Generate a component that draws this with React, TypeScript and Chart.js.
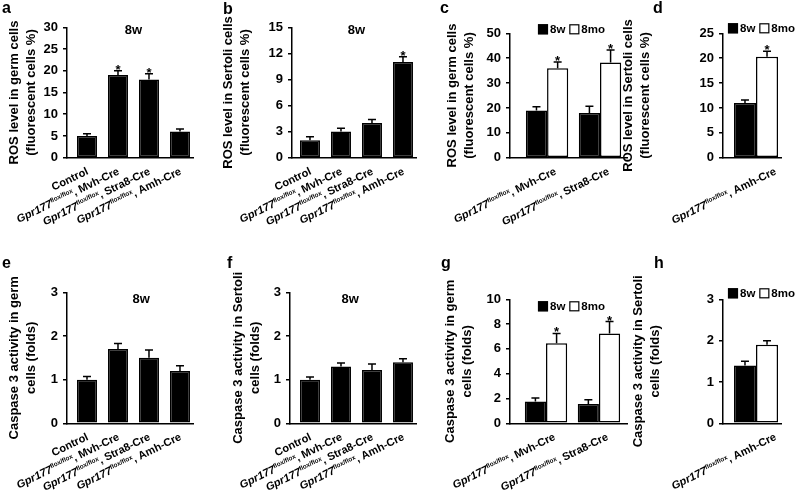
import React, { useEffect, useRef } from "react";
import { Chart, registerables } from "chart.js";

Chart.register(...registerables);

const FAMILY = '"Liberation Sans", Arial, Helvetica, sans-serif';

// ---------------- data ----------------
const genotypeGroups = ["Control", "Mvh-Cre", "Stra8-Cre", "Amh-Cre"];
const germAgeGroups = ["Mvh-Cre", "Stra8-Cre"];
const sertoliAgeGroups = ["Amh-Cre"];
const ageSeries = ["8w", "8mo"];

const rosGermTitle = ["ROS level in germ cells", "(fluorescent cells %)"];
const rosSertoliTitle = ["ROS level in Sertoli cells", "(fluorescent cells %)"];
const casGermTitle = ["Caspase 3 activity in germ", "cells (folds)"];
const casSertoliTitle = ["Caspase 3 activity in Sertoli", "cells (folds)"];

const rosGermTicks = [0, 5, 10, 15, 20, 25, 30];
const rosSertoliTicks = [0, 3, 6, 9, 12, 15];
const rosGermAgeTicks = [0, 10, 20, 30, 40, 50];
const rosSertoliAgeTicks = [0, 5, 10, 15, 20, 25];
const casTicks = [0, 1, 2, 3];
const casGermAgeTicks = [0, 2, 4, 6, 8, 10];

const rosGerm8w = [5, 19, 18, 6];
const rosGerm8wErr = [0.5, 1.0, 1.3, 0.6];
const rosGerm8wSig = [false, true, true, false];

const rosSertoli8w = [2, 3, 4, 11];
const rosSertoli8wErr = [0.4, 0.4, 0.4, 0.6];
const rosSertoli8wSig = [false, false, false, true];

const rosGermAge8w = [19, 18];
const rosGermAge8wErr = [1.5, 2.7];
const rosGermAge8mo = [36, 38.3];
const rosGermAge8moErr = [2.5, 5];
const rosGermAge8moSig = [true, true];

const rosSertoliAge8w = [11];
const rosSertoliAge8wErr = [0.6];
const rosSertoliAge8mo = [20.3];
const rosSertoliAge8moErr = [1.1];
const rosSertoliAge8moSig = [true];

const casGerm8w = [1.0, 1.7, 1.5, 1.2];
const casGerm8wErr = [0.07, 0.13, 0.18, 0.12];

const casSertoli8w = [1.0, 1.3, 1.22, 1.4];
const casSertoli8wErr = [0.06, 0.08, 0.14, 0.08];

const casGermAge8w = [1.75, 1.55];
const casGermAge8wErr = [0.3, 0.35];
const casGermAge8mo = [6.45, 7.25];
const casGermAge8moErr = [0.8, 0.95];
const casGermAge8moSig = [true, true];

const casSertoliAge8w = [1.4];
const casSertoliAge8wErr = [0.1];
const casSertoliAge8mo = [1.9];
const casSertoliAge8moErr = [0.1];

// ---------------- panel layout ----------------
const BLACK = "#000000";
const WHITE = "#ffffff";
const LINE_H = 17;

const panels: any[] = [
  {
    letter: "a", letterX: 2, letterY: 13, yTitle: rosGermTitle, titleX: 14,
    axisX: 67, top: 27.3, bottom: 157.7, right: 193, xMin: -0.645, xMax: 3.42,
    ticks: rosGermTicks, groups: genotypeGroups, catPct: 0.645,
    series: [{ name: ageSeries[0], values: rosGerm8w, errors: rosGerm8wErr, sig: rosGerm8wSig, fill: BLACK }],
    header: ageSeries[0], headerX: 1.5, headerDy: 3, labelDx: 2, labelDy: 16,
  },
  {
    letter: "b", letterX: 223, letterY: 14, yTitle: rosSertoliTitle, titleX: 228,
    axisX: 292, top: 27.3, bottom: 157.7, right: 416, xMin: -0.58, xMax: 3.42,
    ticks: rosSertoliTicks, groups: genotypeGroups, catPct: 0.645,
    series: [{ name: ageSeries[0], values: rosSertoli8w, errors: rosSertoli8wErr, sig: rosSertoli8wSig, fill: BLACK }],
    header: ageSeries[0], headerX: 1.5, headerDy: 3, labelDx: 2, labelDy: 16,
  },
  {
    letter: "c", letterX: 440, letterY: 13, yTitle: rosGermTitle, titleX: 452,
    axisX: 510, top: 33.3, bottom: 157.7, right: 627, xMin: -0.7, xMax: 1.51,
    ticks: rosGermAgeTicks, groups: germAgeGroups, catPct: 0.8,
    series: [
      { name: ageSeries[0], values: rosGermAge8w, errors: rosGermAge8wErr, fill: BLACK },
      { name: ageSeries[1], values: rosGermAge8mo, errors: rosGermAge8moErr, sig: rosGermAge8moSig, fill: WHITE },
    ],
    legendDx: 28, legendDy: -4, labelDx: 10, labelDy: 16,
  },
  {
    letter: "d", letterX: 653, letterY: 13, yTitle: rosSertoliTitle, titleX: 628,
    axisX: 723, top: 33.3, bottom: 157.7, right: 781, xMin: -0.569, xMax: 0.431,
    ticks: rosSertoliAgeTicks, groups: sertoliAgeGroups, catPct: 0.76,
    series: [
      { name: ageSeries[0], values: rosSertoliAge8w, errors: rosSertoliAge8wErr, fill: BLACK },
      { name: ageSeries[1], values: rosSertoliAge8mo, errors: rosSertoliAge8moErr, sig: rosSertoliAge8moSig, fill: WHITE },
    ],
    legendDx: 5, legendDy: -5, labelDx: 21, labelDy: 16,
  },
  {
    letter: "e", letterX: 2, letterY: 268, yTitle: casGermTitle, titleX: 14,
    axisX: 67, top: 292.3, bottom: 423.3, right: 193, xMin: -0.645, xMax: 3.42,
    ticks: casTicks, groups: genotypeGroups, catPct: 0.645,
    series: [{ name: ageSeries[0], values: casGerm8w, errors: casGerm8wErr, fill: BLACK }],
    header: ageSeries[0], headerX: 1.75, headerDy: 7, labelDx: 2, labelDy: 16,
  },
  {
    letter: "f", letterX: 227, letterY: 268, yTitle: casSertoliTitle, titleX: 238,
    axisX: 290, top: 292.3, bottom: 423.3, right: 416, xMin: -0.645, xMax: 3.42,
    ticks: casTicks, groups: genotypeGroups, catPct: 0.645,
    series: [{ name: ageSeries[0], values: casSertoli8w, errors: casSertoli8wErr, fill: BLACK }],
    header: ageSeries[0], headerX: 1.3, headerDy: 7, labelDx: 2, labelDy: 16,
  },
  {
    letter: "g", letterX: 441, letterY: 268, yTitle: casGermTitle, titleX: 450,
    axisX: 510, top: 299.3, bottom: 423.3, right: 627, xMin: -0.68, xMax: 1.53,
    ticks: casGermAgeTicks, groups: germAgeGroups, catPct: 0.8,
    series: [
      { name: ageSeries[0], values: casGermAge8w, errors: casGermAge8wErr, fill: BLACK },
      { name: ageSeries[1], values: casGermAge8mo, errors: casGermAge8moErr, sig: casGermAge8moSig, fill: WHITE },
    ],
    legendDx: 28, legendDy: 7, labelDx: 10, labelDy: 16,
  },
  {
    letter: "h", letterX: 654, letterY: 268, yTitle: casSertoliTitle, titleX: 638,
    axisX: 723, top: 299.3, bottom: 423.3, right: 781, xMin: -0.569, xMax: 0.431,
    ticks: casTicks, groups: sertoliAgeGroups, catPct: 0.76,
    series: [
      { name: ageSeries[0], values: casSertoliAge8w, errors: casSertoliAge8wErr, fill: BLACK },
      { name: ageSeries[1], values: casSertoliAge8mo, errors: casSertoliAge8moErr, fill: WHITE },
    ],
    legendDx: 5, legendDy: -6, labelDx: 21, labelDy: 16,
  },
];

const W = 798;
const H = 497;
const LABEL_ANGLE = 26;
const LABEL_SIZE = 11;

function drawGenotypeLabel(ctx: CanvasRenderingContext2D, name: string, x: number, y: number) {
  ctx.save();
  ctx.translate(x, y);
  ctx.rotate((-LABEL_ANGLE * Math.PI) / 180);
  ctx.textAlign = "left";
  ctx.textBaseline = "alphabetic";
  ctx.fillStyle = BLACK;
  const parts =
    name === "Control"
      ? [{ t: "Control", font: `bold ${LABEL_SIZE}px ${FAMILY}`, dy: 0 }]
      : [
          { t: "Gpr177", font: `italic bold ${LABEL_SIZE}px ${FAMILY}`, dy: 0 },
          { t: "flox/flox", font: `bold ${(LABEL_SIZE * 0.58).toFixed(1)}px ${FAMILY}`, dy: -LABEL_SIZE * 0.36 },
          { t: ", " + name, font: `bold ${LABEL_SIZE}px ${FAMILY}`, dy: 0 },
        ];
  let total = 0;
  const widths = parts.map((p) => {
    ctx.font = p.font;
    const w = ctx.measureText(p.t).width;
    total += w;
    return w;
  });
  let cx = -total;
  parts.forEach((p, i) => {
    ctx.font = p.font;
    ctx.fillText(p.t, cx, p.dy);
    cx += widths[i];
  });
  ctx.restore();
}

function decorPlugin(cfg: any) {
  return {
    id: "decor" + cfg.letter,
    afterDatasetsDraw(chart: any) {
      const ctx = chart.ctx;
      const yScale = chart.scales.y;
      ctx.save();
      ctx.strokeStyle = BLACK;
      ctx.fillStyle = BLACK;
      ctx.lineWidth = 1.5;
      cfg.series.forEach((s: any, di: number) => {
        const meta = chart.getDatasetMeta(di);
        meta.data.forEach((bar: any, i: number) => {
          const top = yScale.getPixelForValue(s.values[i] + s.errors[i]);
          ctx.beginPath();
          ctx.moveTo(bar.x, bar.y);
          ctx.lineTo(bar.x, top);
          ctx.moveTo(bar.x - 4, top);
          ctx.lineTo(bar.x + 4, top);
          ctx.stroke();
          if (s.sig && s.sig[i]) {
            ctx.font = `bold 13px ${FAMILY}`;
            ctx.textAlign = "center";
            ctx.textBaseline = "alphabetic";
            ctx.fillText("*", bar.x, top + 3);
          }
        });
      });
      ctx.restore();
    },
    afterDraw(chart: any) {
      const ctx = chart.ctx;
      const xScale = chart.scales.x;
      const area = chart.chartArea;
      ctx.save();
      ctx.fillStyle = BLACK;
      // panel letter
      ctx.font = `bold 16px ${FAMILY}`;
      ctx.textAlign = "left";
      ctx.textBaseline = "alphabetic";
      ctx.fillText(cfg.letter, cfg.letterX, cfg.letterY);
      // header
      if (cfg.header) {
        ctx.font = `bold 13px ${FAMILY}`;
        ctx.textAlign = "center";
        ctx.textBaseline = "middle";
        ctx.fillText(cfg.header, xScale.getPixelForValue(cfg.headerX), area.top + cfg.headerDy);
      }
      // legend
      if (cfg.series.length > 1) {
        let lx = area.left + cfg.legendDx;
        const cy = area.top + cfg.legendDy;
        ctx.font = `bold 11.5px ${FAMILY}`;
        ctx.textAlign = "left";
        ctx.textBaseline = "middle";
        cfg.series.forEach((s: any) => {
          ctx.fillStyle = s.fill;
          ctx.fillRect(lx, cy - 5, 10, 10);
          ctx.strokeStyle = BLACK;
          ctx.lineWidth = 1.2;
          ctx.strokeRect(lx + 0.5, cy - 4.5, 9, 9);
          ctx.fillStyle = BLACK;
          ctx.fillText(s.name, lx + 12, cy + 0.5);
          lx += 12 + ctx.measureText(s.name).width + 4;
        });
      }
      // category labels
      cfg.groups.forEach((g: string, i: number) => {
        drawGenotypeLabel(ctx, g, xScale.getPixelForValue(i) + cfg.labelDx, area.bottom + cfg.labelDy);
      });
      ctx.restore();
    },
  };
}

function buildConfig(cfg: any): any {
  const padLeft = cfg.titleX - LINE_H / 2;
  const yWidth = cfg.axisX - padLeft;
  const ticks = cfg.ticks;
  return {
    type: "bar",
    data: {
      datasets: cfg.series.map((s: any) => ({
        label: s.name,
        data: s.values.map((v: number, i: number) => ({ x: i, y: v })),
        backgroundColor: s.fill,
        borderColor: BLACK,
        borderWidth: 1.5,
        borderSkipped: false,
        categoryPercentage: cfg.catPct,
        barPercentage: 1,
      })),
    },
    options: {
      responsive: false,
      maintainAspectRatio: false,
      animation: false,
      devicePixelRatio: 1,
      events: [],
      layout: {
        padding: { left: padLeft, top: cfg.top, right: W - cfg.right, bottom: H - cfg.bottom },
      },
      plugins: { legend: { display: false }, tooltip: { enabled: false }, title: { display: false } },
      scales: {
        x: {
          type: "linear",
          min: cfg.xMin,
          max: cfg.xMax,
          offset: false,
          ticks: { display: false, stepSize: 1, includeBounds: false },
          grid: { display: false, offset: false, drawTicks: false },
          border: { display: true, color: BLACK, width: 1.5 },
          afterFit: (s: any) => {
            s.height = 0;
          },
        },
        y: {
          min: ticks[0],
          max: ticks[ticks.length - 1],
          ticks: {
            stepSize: ticks[1] - ticks[0],
            color: BLACK,
            padding: 5,
            font: { family: FAMILY, size: 13, weight: "bold" },
          },
          grid: { drawOnChartArea: false, drawTicks: true, tickLength: 4, color: BLACK, lineWidth: 1.5 },
          border: { display: true, color: BLACK, width: 1.5 },
          title: {
            display: true,
            text: cfg.yTitle,
            color: BLACK,
            padding: { top: 0, bottom: 0 },
            font: { family: FAMILY, size: 13, weight: "bold", lineHeight: LINE_H / 13 },
          },
          afterFit: (s: any) => {
            s.width = yWidth;
          },
        },
      },
    },
    plugins: [decorPlugin(cfg)],
  };
}

function PanelChart({ cfg }: { cfg: any }) {
  const ref = useRef<HTMLCanvasElement>(null);
  useEffect(() => {
    const chart = new Chart(ref.current as HTMLCanvasElement, buildConfig(cfg));
    return () => chart.destroy();
  }, [cfg]);
  return (
    <canvas
      ref={ref}
      width={W}
      height={H}
      style={{ position: "absolute", left: 0, top: 0, width: W, height: H }}
    />
  );
}

export default function App() {
  return (
    <div
      style={{
        position: "absolute",
        left: 0,
        top: 0,
        width: W,
        height: H,
        background: "#ffffff",
        overflow: "hidden",
      }}
    >
      {panels.map((p) => (
        <PanelChart key={p.letter} cfg={p} />
      ))}
    </div>
  );
}
